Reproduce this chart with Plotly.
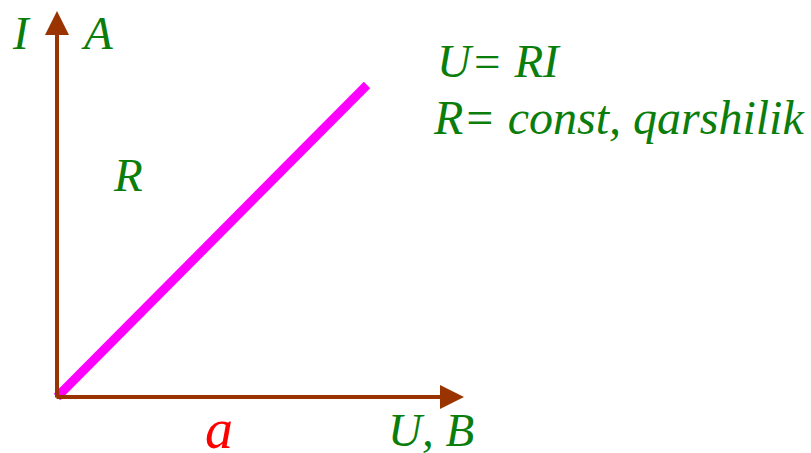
import plotly.graph_objects as go

# Data: linear I-U characteristic (R = const)
u_vals = [0, 10]
i_vals = [0, 10]

W, H = 811, 453
ox, oy = 57, 397          # origin pixel
kx, ky = 31.0, 31.2       # px per unit

x_rng = [-ox / kx, (W - ox) / kx]
y_rng = [-(H - oy) / ky, oy / ky]

GREEN = "#0a7d0a"
BROWN = "#993300"
FONT = "Liberation Serif, Times New Roman, Times, serif"

fig = go.Figure()
fig.add_trace(go.Scatter(x=u_vals, y=i_vals, mode="lines",
                         line=dict(color="#ff00ff", width=9), hoverinfo="skip"))

def px(xp, yp):
    return (xp - ox) / kx, (oy - yp) / ky

anns = []
# axes arrows
tx, ty = px(57, 11)
anns.append(dict(x=tx, y=ty, ax=0, ay=px(57, 399)[1], xref="x", yref="y", axref="x", ayref="y",
                 showarrow=True, arrowhead=2, arrowsize=1.2, arrowwidth=4, arrowcolor=BROWN, text=""))
tx, ty = px(464, 397)
anns.append(dict(x=tx, y=ty, ax=px(55, 397)[0], ay=0, xref="x", yref="y", axref="x", ayref="y",
                 showarrow=True, arrowhead=2, arrowsize=1.2, arrowwidth=4, arrowcolor=BROWN, text=""))

def label(text, xp, baseline, color=GREEN, size=47, xanchor="center"):
    ymid = baseline - 0.33 * size
    anns.append(dict(x=xp / W, y=1 - ymid / H, xref="paper", yref="paper", text="<i>" + text + "</i>",
                     showarrow=False, xanchor=xanchor, yanchor="middle",
                     font=dict(family=FONT, size=size, color=color)))

label("I", 21, 49)
label("A", 97, 49)
label("R", 128, 191)
label("U= RI", 435, 77, xanchor="left")
label("R= const, qarshilik", 431, 133, size=48, xanchor="left")
label("a", 219, 447, color="#ff0000", size=56)
label("U, B", 386, 446, xanchor="left")

fig.update_layout(
    width=W, height=H, margin=dict(l=0, r=0, t=0, b=0),
    paper_bgcolor="white", plot_bgcolor="white", showlegend=False,
    xaxis=dict(range=x_rng, visible=False, fixedrange=True),
    yaxis=dict(range=y_rng, visible=False, fixedrange=True),
    annotations=anns,
)
fig.write_html("out.html", config={"displayModeBar": False},
               post_script="document.body.style.margin='0';")
